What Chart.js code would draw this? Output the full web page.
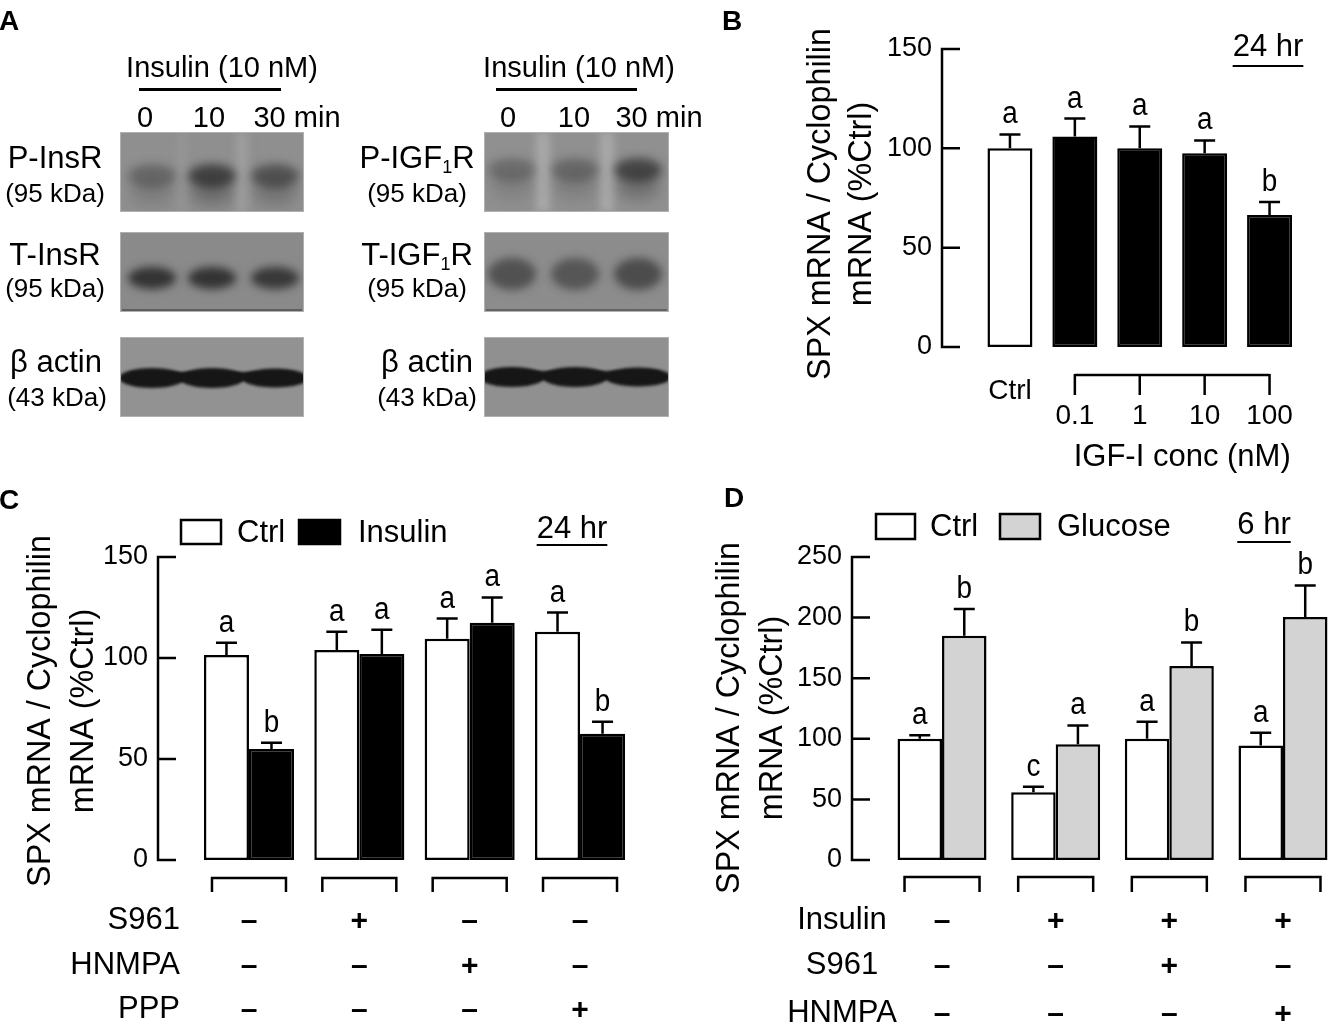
<!DOCTYPE html>
<html>
<head>
<meta charset="utf-8">
<script src="https://cdn.jsdelivr.net/npm/chart.js@4.4.1/dist/chart.umd.min.js"></script>
<style>
html, body { margin: 0; padding: 0; background: #fff; overflow: hidden; }
#fig { position: relative; width: 1331px; height: 1028px; overflow: hidden;
       font-family: "Liberation Sans", Arial, Helvetica, sans-serif; color: #000; }
canvas { position: absolute; }
.t { position: absolute; white-space: nowrap; transform: translate(-50%, -50%); line-height: 1; }
.t sub { font-size: 58%; vertical-align: -0.3em; line-height: 0; }
.bar { position: absolute; height: 3px; background: #000; }
</style>
</head>
<body>
<div id="fig">
  <canvas id="blots" width="720" height="430" style="left:0px;top:0px"></canvas>
  <canvas id="chartB" width="611" height="480" style="left:720px;top:0px"></canvas>
  <canvas id="chartC" width="680" height="548" style="left:0px;top:480px"></canvas>
  <canvas id="chartD" width="660" height="548" style="left:690px;top:480px"></canvas>

  <!-- panel letters -->
  <div class="t" style="left:9px;top:21px;font-size:28px;font-weight:bold">A</div>
  <div class="t" style="left:732px;top:21px;font-size:28px;font-weight:bold">B</div>
  <div class="t" style="left:9px;top:500px;font-size:28px;font-weight:bold">C</div>
  <div class="t" style="left:734px;top:498px;font-size:28px;font-weight:bold">D</div>

  <!-- panel A headers -->
  <div class="t" style="left:222px;top:67px;font-size:29px">Insulin (10 nM)</div>
  <div class="bar" style="left:139px;top:88px;width:142px"></div>
  <div class="t" style="left:145px;top:117px;font-size:29px">0</div>
  <div class="t" style="left:209px;top:117px;font-size:29px">10</div>
  <div class="t" style="left:297px;top:117px;font-size:29px">30 min</div>

  <div class="t" style="left:579px;top:67px;font-size:29px">Insulin (10 nM)</div>
  <div class="bar" style="left:496px;top:88px;width:141px"></div>
  <div class="t" style="left:508px;top:117px;font-size:29px">0</div>
  <div class="t" style="left:574px;top:117px;font-size:29px">10</div>
  <div class="t" style="left:659px;top:117px;font-size:29px">30 min</div>

  <!-- panel A row labels -->
  <div class="t" style="left:55px;top:157px;font-size:31px">P-InsR</div>
  <div class="t" style="left:55px;top:193px;font-size:26px">(95 kDa)</div>
  <div class="t" style="left:55px;top:254px;font-size:31px">T-InsR</div>
  <div class="t" style="left:55px;top:288px;font-size:26px">(95 kDa)</div>
  <div class="t" style="left:56px;top:361px;font-size:31px">β actin</div>
  <div class="t" style="left:57px;top:397px;font-size:26px">(43 kDa)</div>

  <div class="t" style="left:417px;top:157px;font-size:31px">P-IGF<sub>1</sub>R</div>
  <div class="t" style="left:417px;top:193px;font-size:26px">(95 kDa)</div>
  <div class="t" style="left:417px;top:254px;font-size:31px">T-IGF<sub>1</sub>R</div>
  <div class="t" style="left:417px;top:288px;font-size:26px">(95 kDa)</div>
  <div class="t" style="left:427px;top:361px;font-size:31px">β actin</div>
  <div class="t" style="left:427px;top:397px;font-size:26px">(43 kDa)</div>
</div>

<script>
// ---- data ----
// panel A, relative band strength per lane (0, 10, 30 min)
const pInsR  = [0.45, 0.9, 0.7];
const tInsR  = [0.9, 0.9, 0.85];
const actinL = [1, 1, 0.95];
const pIGF1R = [0.4, 0.45, 0.85];
const tIGF1R = [0.6, 0.55, 0.65];
const actinR = [1, 1, 0.95];

// panel B
const catsB = ['Ctrl', '0.1', '1', '10', '100'];
const meanB = [100, 106, 100, 97.5, 66.5];
const errB  = [7, 9, 11, 6.5, 6.5];
const sigB  = ['a', 'a', 'a', 'a', 'b'];
const ticksB = [0, 50, 100, 150];

// panel C
const groupsC = ['None', 'S961', 'HNMPA', 'PPP'];
const ctrlC    = [101.5, 104, 109.5, 113];
const ctrlErrC = [6, 9, 10, 9.5];
const insC     = [55, 102, 117.5, 62.5];
const insErrC  = [3, 12, 12.5, 6];
const ctrlSigC = ['a', 'a', 'a', 'a'];
const insSigC  = ['b', 'a', 'a', 'b'];
const ticksC = [0, 50, 100, 150];
const rowLabelsC = ['S961', 'HNMPA', 'PPP'];
const rowSignsC = [['–', '+', '–', '–'],
                   ['–', '–', '+', '–'],
                   ['–', '–', '–', '+']];

// panel D
const groupsD = ['None', 'Insulin', 'Insulin+S961', 'Insulin+HNMPA'];
const ctrlD    = [100, 56, 100, 94.5];
const ctrlErrD = [3, 4.5, 14, 10.5];
const gluD     = [185, 95.5, 160, 200.5];
const gluErrD  = [22, 15.5, 19.5, 26];
const ctrlSigD = ['a', 'c', 'a', 'a'];
const gluSigD  = ['b', 'a', 'b', 'b'];
const ticksD = [0, 50, 100, 150, 200, 250];
const rowLabelsD = ['Insulin', 'S961', 'HNMPA'];
const rowSignsD = [['–', '+', '+', '+'],
                   ['–', '–', '+', '–'],
                   ['–', '–', '–', '+']];

const yTitle = ['SPX mRNA / Cyclophilin', 'mRNA (%Ctrl)'];

// ---- helpers ----
const FAM = '"Liberation Sans", Arial, Helvetica, sans-serif';
function font(px, bold) { return (bold ? 'bold ' : '') + px + 'px ' + FAM; }

function drawYAxis(chart, o) {
  const ctx = chart.ctx, y = chart.scales.y;
  const top = y.getPixelForValue(o.ticks[o.ticks.length - 1]);
  const bot = y.getPixelForValue(o.ticks[0]);
  ctx.save();
  ctx.strokeStyle = '#000';
  ctx.lineWidth = 2.5;
  ctx.beginPath();
  ctx.moveTo(o.axisX, top - 1.25);
  ctx.lineTo(o.axisX, bot + 1.25);
  o.ticks.forEach(v => {
    const p = y.getPixelForValue(v);
    ctx.moveTo(o.axisX - 1.25, p);
    ctx.lineTo(o.axisX + 18, p);
  });
  ctx.stroke();
  ctx.fillStyle = '#000';
  ctx.font = font(27);
  ctx.textAlign = 'right';
  ctx.textBaseline = 'middle';
  o.ticks.forEach(v => ctx.fillText(String(v), o.labelX, y.getPixelForValue(v)));
  // slightly condensed title, as in the original figure
  ctx.font = font(34);
  ctx.textAlign = 'center';
  yTitle.forEach((line, i) => {
    ctx.save();
    ctx.translate(o.titleX[i], o.titleY);
    ctx.rotate(-Math.PI / 2);
    ctx.scale(0.95, 1);
    ctx.fillText(line, 0, 0);
    ctx.restore();
  });
  ctx.restore();
}

function drawErrors(chart, errs, sigs) {
  const ctx = chart.ctx, y = chart.scales.y;
  ctx.save();
  ctx.strokeStyle = '#000';
  ctx.fillStyle = '#000';
  ctx.lineWidth = 2.5;
  ctx.font = font(31);
  ctx.textAlign = 'center';
  ctx.textBaseline = 'alphabetic';
  chart.data.datasets.forEach((ds, d) => {
    chart.getDatasetMeta(d).data.forEach((bar, i) => {
      const top = y.getPixelForValue(ds.data[i] + errs[d][i]);
      ctx.beginPath();
      ctx.moveTo(bar.x, bar.y);
      ctx.lineTo(bar.x, top);
      ctx.moveTo(bar.x - 10.5, top);
      ctx.lineTo(bar.x + 10.5, top);
      ctx.stroke();
      ctx.save();
      ctx.translate(bar.x, top - 11);
      ctx.scale(0.9, 1);
      ctx.fillText(sigs[d][i], 0, 0);
      ctx.restore();
    });
  });
  ctx.restore();
}

function drawBrackets(chart, yTop, yBot, half) {
  const ctx = chart.ctx, x = chart.scales.x;
  ctx.save();
  ctx.strokeStyle = '#000';
  ctx.lineWidth = 2.5;
  chart.data.labels.forEach((_, i) => {
    const c = x.getPixelForValue(i);
    ctx.beginPath();
    ctx.moveTo(c - half, yBot);
    ctx.lineTo(c - half, yTop);
    ctx.lineTo(c + half, yTop);
    ctx.lineTo(c + half, yBot);
    ctx.stroke();
  });
  ctx.restore();
}

function drawRows(chart, labels, signs, ys, labelX, align) {
  const ctx = chart.ctx, x = chart.scales.x;
  ctx.save();
  ctx.fillStyle = '#000';
  ctx.textBaseline = 'middle';
  labels.forEach((lab, r) => {
    ctx.font = font(31);
    ctx.textAlign = align;
    ctx.fillText(lab, labelX, ys[r]);
    ctx.font = font(30, true);
    ctx.textAlign = 'center';
    signs[r].forEach((s, i) => ctx.fillText(s, x.getPixelForValue(i), ys[r] + 2));
  });
  ctx.restore();
}

function drawLegend(chart, items) {
  const ctx = chart.ctx;
  ctx.save();
  ctx.lineWidth = 2.5;
  ctx.strokeStyle = '#000';
  ctx.font = font(31);
  ctx.textAlign = 'left';
  ctx.textBaseline = 'middle';
  items.forEach(it => {
    ctx.fillStyle = it.fill;
    ctx.fillRect(it.x, it.y, it.w, it.h);
    ctx.strokeRect(it.x, it.y, it.w, it.h);
    ctx.fillStyle = '#000';
    ctx.fillText(it.label, it.tx, it.y + it.h / 2 + 1);
  });
  ctx.restore();
}

function drawTime(chart, text, cx, cy, uy) {
  const ctx = chart.ctx;
  ctx.save();
  ctx.fillStyle = '#000';
  ctx.font = font(31);
  ctx.textAlign = 'center';
  ctx.textBaseline = 'middle';
  ctx.fillText(text, cx, cy);
  const w = ctx.measureText(text).width;
  ctx.fillRect(cx - w / 2, uy, w, 2);
  ctx.restore();
}

function barChart(id, labels, datasets, yMax, pad, plugin) {
  return new Chart(document.getElementById(id), {
    type: 'bar',
    data: { labels: labels, datasets: datasets },
    options: {
      responsive: false,
      animation: false,
      events: [],
      layout: { padding: pad },
      scales: {
        x: { display: false },
        y: { display: false, min: 0, max: yMax }
      },
      plugins: { legend: { display: false }, tooltip: { enabled: false } }
    },
    plugins: [plugin]
  });
}

// ---- panel B ----
barChart('chartB', catsB, [{
  data: meanB,
  backgroundColor: ['#fff', '#000', '#000', '#000', '#000'],
  borderColor: '#000',
  borderWidth: 2.5,
  borderSkipped: false,
  categoryPercentage: 1,
  barPercentage: 0.693
}], 150, { left: 257.5, right: 29, top: 49, bottom: 133 }, {
  id: 'figB',
  afterDraw(chart) {
    drawYAxis(chart, { ticks: ticksB, axisX: 222, labelX: 212, titleX: [101, 142], titleY: 204 });
    drawErrors(chart, [errB], [sigB]);
    const ctx = chart.ctx, x = chart.scales.x;
    ctx.save();
    ctx.fillStyle = '#000';
    ctx.strokeStyle = '#000';
    ctx.lineWidth = 2.5;
    ctx.font = font(28);
    ctx.textAlign = 'center';
    ctx.textBaseline = 'middle';
    ctx.fillText(catsB[0], x.getPixelForValue(0), 391);
    const xs = [1, 2, 3, 4].map(i => x.getPixelForValue(i));
    ctx.beginPath();
    ctx.moveTo(xs[0], 375);
    ctx.lineTo(xs[3], 375);
    xs.forEach(p => { ctx.moveTo(p, 374); ctx.lineTo(p, 395); });
    ctx.stroke();
    xs.forEach((p, k) => ctx.fillText(catsB[k + 1], p, 416));
    ctx.font = font(31);
    ctx.fillText('IGF-I conc (nM)', (xs[0] + xs[3]) / 2 + 10, 457);
    ctx.restore();
    drawTime(chart, '24 hr', 548, 47, 65);
  }
});

// ---- panel C ----
barChart('chartC', groupsC, [
  { label: 'Ctrl', data: ctrlC, backgroundColor: '#fff', borderColor: '#000', borderWidth: 2.5,
    borderSkipped: false, categoryPercentage: 0.816, barPercentage: 1 },
  { label: 'Insulin', data: insC, backgroundColor: '#000', borderColor: '#000', borderWidth: 2.5,
    borderSkipped: false, categoryPercentage: 0.816, barPercentage: 1 }
], 150, { left: 193.8, right: 44.8, top: 77, bottom: 168 }, {
  id: 'figC',
  afterDraw(chart) {
    drawYAxis(chart, { ticks: ticksC, axisX: 158, labelX: 148, titleX: [41, 84], titleY: 231 });
    drawErrors(chart, [ctrlErrC, insErrC], [ctrlSigC, insSigC]);
    drawBrackets(chart, 398, 412, 37);
    drawRows(chart, rowLabelsC, rowSignsC, [440, 485, 529], 180, 'right');
    drawLegend(chart, [
      { x: 181, y: 40, w: 40, h: 24, fill: '#fff', label: 'Ctrl', tx: 237 },
      { x: 299, y: 40, w: 41, h: 24, fill: '#000', label: 'Insulin', tx: 358 }
    ]);
    drawTime(chart, '24 hr', 572, 49, 64);
  }
});

// ---- panel D ----
barChart('chartD', groupsD, [
  { label: 'Ctrl', data: ctrlD, backgroundColor: '#fff', borderColor: '#000', borderWidth: 2.5,
    borderSkipped: false, categoryPercentage: 0.783, barPercentage: 1 },
  { label: 'Glucose', data: gluD, backgroundColor: '#d3d3d3', borderColor: '#000', borderWidth: 2.5,
    borderSkipped: false, categoryPercentage: 0.783, barPercentage: 1 }
], 250, { left: 195.2, right: 10.2, top: 77, bottom: 168 }, {
  id: 'figD',
  afterDraw(chart) {
    drawYAxis(chart, { ticks: ticksD, axisX: 162, labelX: 152, titleX: [40, 83], titleY: 238 });
    drawErrors(chart, [ctrlErrD, gluErrD], [ctrlSigD, gluSigD]);
    drawBrackets(chart, 397, 412, 37.5);
    drawRows(chart, rowLabelsD, rowSignsD, [440, 485, 533], 152, 'center');
    drawLegend(chart, [
      { x: 186, y: 34, w: 39, h: 25, fill: '#fff', label: 'Ctrl', tx: 240 },
      { x: 310, y: 34, w: 40, h: 25, fill: '#d3d3d3', label: 'Glucose', tx: 367 }
    ]);
    drawTime(chart, '6 hr', 574, 45, 61);
  }
});

// ---- panel A: western blot images ----
(function () {
  const ctx = document.getElementById('blots').getContext('2d');
  const lanesL = [152, 212, 275];
  const lanesR = [512, 575, 638];

  function blot(x0, y0, w, h, bg, draw) {
    ctx.save();
    ctx.fillStyle = bg;
    ctx.fillRect(x0, y0, w, h);
    ctx.strokeStyle = 'rgba(200,200,200,0.6)';
    ctx.lineWidth = 1;
    ctx.strokeRect(x0 + 0.5, y0 + 0.5, w - 1, h - 1);
    ctx.beginPath();
    ctx.rect(x0 + 1, y0 + 1, w - 2, h - 2);
    ctx.clip();
    draw();
    ctx.restore();
  }
  function blob(cx, cy, rx, ry, color, blur) {
    ctx.save();
    ctx.filter = 'blur(' + blur + 'px)';
    ctx.fillStyle = color;
    ctx.beginPath();
    ctx.ellipse(cx, cy, rx, ry, 0, 0, Math.PI * 2);
    ctx.fill();
    ctx.restore();
  }
  function streak(x, y0, h, w, color) {
    ctx.save();
    ctx.filter = 'blur(4px)';
    ctx.fillStyle = color;
    ctx.fillRect(x - w / 2, y0, w, h);
    ctx.restore();
  }
  function phospho(lanes, vals, cy) {
    lanes.forEach((lx, i) => {
      blob(lx, cy + 16, 22, 14, 'rgba(40,40,40,' + (vals[i] * 0.35) + ')', 7);
      blob(lx, cy, 24, 12, 'rgba(30,30,30,' + vals[i] * 0.75 + ')', 5);
    });
  }
  function total(lanes, vals, cy, ry) {
    lanes.forEach((lx, i) => {
      blob(lx, cy, 24, ry, 'rgba(25,25,25,' + vals[i] * 0.85 + ')', 4);
    });
  }
  function actin(lanes, vals, cy, x0, x1) {
    ctx.save();
    ctx.filter = 'blur(1.5px)';
    ctx.fillStyle = '#1c1c1c';
    ctx.fillRect(x0 + 10, cy - 6, x1 - x0 - 20, 8);
    ctx.restore();
    lanes.forEach((lx, i) => {
      blob(lx, cy, 33, 10 * vals[i], 'rgba(22,22,22,1)', 1.8);
    });
  }

  // left column: InsR
  blot(120, 132, 184, 80, '#8f8f8f', () => {
    streak(242, 132, 80, 12, 'rgba(190,190,190,0.35)');
    streak(182, 132, 80, 10, 'rgba(180,180,180,0.2)');
    phospho(lanesL, pInsR, 176);
  });
  blot(120, 232, 184, 80, '#8a8a8a', () => {
    total(lanesL, tInsR, 278, 11);
    ctx.fillStyle = 'rgba(50,50,50,0.5)';
    ctx.fillRect(122, 309, 180, 2);
  });
  blot(120, 337, 184, 80, '#929292', () => {
    actin(lanesL, actinL, 378, 120, 304);
  });

  // right column: IGF1R
  blot(484, 132, 185, 80, '#909090', () => {
    streak(543, 132, 80, 14, 'rgba(200,200,200,0.45)');
    streak(607, 132, 80, 14, 'rgba(200,200,200,0.45)');
    phospho(lanesR, pIGF1R, 170);
  });
  blot(484, 232, 185, 80, '#8c8c8c', () => {
    total(lanesR, tIGF1R, 274, 16);
    ctx.fillStyle = 'rgba(50,50,50,0.45)';
    ctx.fillRect(486, 309, 181, 2);
  });
  blot(484, 337, 185, 80, '#909090', () => {
    actin(lanesR, actinR, 377, 484, 669);
  });
})();
</script>
</body>
</html>
